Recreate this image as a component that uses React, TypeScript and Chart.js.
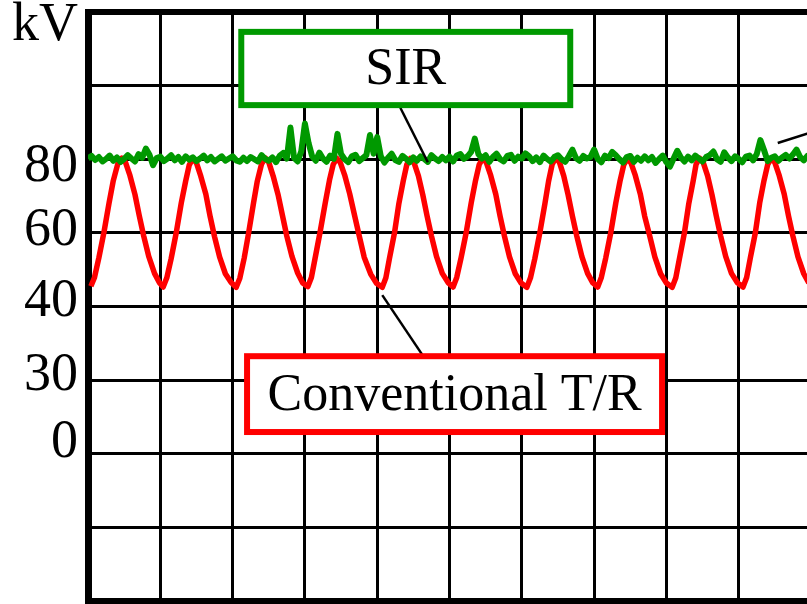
import React, { useEffect, useRef } from "react";
import { Chart, registerables } from "chart.js";

Chart.register(...registerables);

// ---- Data (time in screen divisions, voltage in kV) ----
const SIR_SAMPLE_STEP = 0.05; // divisions between SIR samples

const sirKV = [
  80.2, 80.9, 79.8, 80.6, 79.4, 80.1, 81.0, 79.6, 80.5, 79.3,
  80.1, 81.1, 80.2, 79.4, 81.4, 80.4, 82.9, 81.2, 78.4, 80.3,
  80.7, 79.5, 80.2, 81.1, 79.7, 80.6, 79.3, 80.8, 79.9, 80.5,
  79.5, 80.2, 81.0, 79.7, 80.6, 79.4, 80.1, 80.8, 79.6, 80.2,
  80.8, 79.7, 79.3, 80.4, 79.5, 80.6, 80.0, 79.4, 81.1, 80.1,
  79.6, 80.5, 79.2, 80.9, 81.7, 80.2, 88.6, 80.4, 79.4, 82.2,
  89.7, 84.5, 80.8, 79.6, 81.8, 80.2, 79.3, 81.0, 80.1, 86.9,
  81.4, 80.0, 79.2, 80.8, 81.2, 79.5, 80.3, 81.1, 86.6, 81.5,
  86.0, 80.8, 79.1, 80.4, 81.5, 79.8, 79.3, 80.9, 80.1, 79.2,
  80.5, 79.6, 80.8, 80.1, 79.3, 81.1, 80.2, 79.5, 80.6, 79.7,
  80.7, 79.4, 81.0, 81.4, 80.1, 80.8, 82.0, 85.6, 81.4, 80.2,
  81.1, 79.3, 80.6, 81.5, 80.0, 79.4, 80.9, 81.2, 79.6, 80.7,
  80.2, 81.6, 80.8, 79.5, 80.5, 79.2, 81.0, 80.1, 79.4, 80.6,
  81.1, 80.0, 79.3, 80.8, 82.6, 80.3, 79.6, 80.9, 80.2, 80.6,
  82.6, 80.1, 79.2, 81.0, 80.3, 82.0, 81.1, 80.0, 79.1, 80.6,
  80.9, 79.3, 80.4, 79.6, 80.8, 79.7, 80.6, 79.0, 80.1, 81.0,
  79.2, 78.0, 80.2, 82.3, 80.5, 79.4, 80.7, 79.7, 81.0, 80.2,
  79.4, 80.6, 81.1, 82.1, 80.0, 79.3, 81.9, 80.5, 79.5, 80.8,
  80.1, 79.2, 80.7, 81.0, 79.7, 81.4, 85.2, 82.5, 79.5, 80.4,
  80.8, 79.6, 80.5, 81.2, 80.2, 81.3, 82.6, 80.6, 79.7, 80.9, 80.3,
];

const convTime = [
  0.04, 0.09, 0.15, 0.22, 0.29, 0.35, 0.41, 0.47, 0.52, 0.58, 0.65, 0.71, 0.77, 0.84, 0.92, 0.99,
  1.04, 1.09, 1.15, 1.22, 1.29, 1.35, 1.40, 1.45, 1.50, 1.56, 1.63, 1.69, 1.75, 1.82, 1.90, 1.98,
  2.05, 2.10, 2.16, 2.22, 2.29, 2.34, 2.40, 2.45, 2.50, 2.56, 2.63, 2.69, 2.75, 2.82, 2.90, 2.97,
  3.04, 3.09, 3.14, 3.21, 3.28, 3.34, 3.39, 3.44, 3.49, 3.55, 3.62, 3.69, 3.75, 3.82, 3.91, 3.99,
  4.07, 4.12, 4.17, 4.24, 4.30, 4.36, 4.41, 4.46, 4.51, 4.57, 4.63, 4.69, 4.75, 4.82, 4.90, 4.98,
  5.05, 5.10, 5.16, 5.23, 5.30, 5.36, 5.41, 5.46, 5.51, 5.57, 5.64, 5.70, 5.76, 5.83, 5.91, 5.99,
  6.07, 6.12, 6.18, 6.25, 6.32, 6.37, 6.42, 6.47, 6.52, 6.58, 6.64, 6.70, 6.76, 6.83, 6.91, 6.98,
  7.05, 7.10, 7.16, 7.23, 7.30, 7.36, 7.41, 7.46, 7.51, 7.57, 7.64, 7.70, 7.77, 7.84, 7.92, 8.00,
  8.08, 8.13, 8.18, 8.25, 8.31, 8.37, 8.41, 8.46, 8.51, 8.57, 8.63, 8.69, 8.75, 8.82, 8.90, 8.98,
  9.06, 9.11, 9.16, 9.23, 9.29, 9.35, 9.40, 9.45, 9.50, 9.56, 9.63, 9.69, 9.75, 9.82, 9.90, 9.97,
];

const convKV = [
  45.5, 47.9, 53.2, 60.1, 68.0, 74.2, 78.6, 80.3, 79.1, 75.6, 70.4, 64.6, 59.2, 53.6, 49.0, 46.4,
  45.3, 47.8, 53.0, 60.0, 68.1, 74.0, 78.4, 80.2, 79.0, 75.4, 70.5, 64.4, 59.0, 53.5, 48.9, 46.5,
  45.2, 47.7, 53.1, 59.8, 68.2, 73.9, 78.7, 80.4, 79.2, 75.5, 70.3, 64.7, 59.1, 53.7, 49.1, 46.4,
  45.4, 47.9, 53.0, 60.2, 68.0, 74.3, 78.5, 80.3, 79.1, 75.7, 70.6, 64.5, 59.3, 53.4, 48.8, 46.3,
  45.2, 47.8, 53.1, 60.1, 68.0, 74.1, 78.6, 80.2, 79.0, 75.5, 70.4, 64.6, 59.2, 53.6, 49.0, 46.5,
  45.3, 47.9, 53.2, 60.0, 68.1, 74.2, 78.5, 80.3, 79.1, 75.6, 70.5, 64.5, 59.1, 53.5, 48.9, 46.4,
  45.2, 47.8, 53.0, 60.1, 68.0, 74.0, 78.6, 80.4, 79.2, 75.5, 70.4, 64.6, 59.2, 53.6, 49.0, 46.5,
  45.3, 47.9, 53.1, 60.0, 68.1, 74.2, 78.5, 80.2, 79.0, 75.6, 70.5, 64.5, 59.1, 53.5, 48.9, 46.4,
  45.2, 47.8, 53.0, 60.1, 68.0, 74.1, 78.6, 80.3, 79.1, 75.5, 70.4, 64.6, 59.2, 53.6, 49.0, 46.5,
  45.3, 47.9, 53.1, 60.0, 68.1, 74.2, 78.5, 80.3, 79.1, 75.6, 70.5, 64.5, 59.1, 53.5, 48.9, 46.4,
];

// y tick labels (as printed on the original screen) and their kV positions
const yTickValues = [3.0, 21.3, 41.2, 60.5, 78.0, 116.3];
const yTickLabels = ["0", "30", "40", "60", "80", "kV"];

const X_MIN = 0;
const X_MAX = 10;
const Y_MIN = -40;
const Y_MAX = 120;

const SIR_COLOR = "#009900";
const CONV_COLOR = "#ff0000";
const SERIF = '"Liberation Serif", "Times New Roman", serif';

// Annotation boxes and leader lines (in data coordinates)
const labelBoxes = [
  { text: "SIR", color: SIR_COLOR, x0: 2.12, x1: 6.67, y0: 114.6, y1: 94.7 },
  { text: "Conventional T/R", color: CONV_COLOR, x0: 2.2, x1: 7.94, y0: 26.5, y1: 5.9 },
];
const leaderLines = [
  { x0: 4.32, y0: 94.0, x1: 4.7, y1: 79.2 },
  { x0: 4.07, y0: 43.1, x1: 4.62, y1: 27.0 },
  { x0: 9.54, y0: 84.4, x1: 10.0, y1: 87.3 },
];

export default function App() {
  const ref = useRef<HTMLCanvasElement>(null);

  useEffect(() => {
    const canvas = ref.current;
    if (!canvas) return;

    const sirData = sirKV.map((v, i) => ({ x: i * SIR_SAMPLE_STEP, y: v }));
    const convData = convTime.map((t, i) => ({ x: t, y: convKV[i] }));

    const annotationPlugin = {
      id: "scopeAnnotations",
      afterDraw(chart: any) {
        const { ctx } = chart;
        const xs = chart.scales.x;
        const ys = chart.scales.y;
        ctx.save();
        ctx.strokeStyle = "#000";
        ctx.lineWidth = 2.5;
        for (const l of leaderLines) {
          ctx.beginPath();
          ctx.moveTo(xs.getPixelForValue(l.x0), ys.getPixelForValue(l.y0));
          ctx.lineTo(xs.getPixelForValue(l.x1), ys.getPixelForValue(l.y1));
          ctx.stroke();
        }
        for (const b of labelBoxes) {
          const left = xs.getPixelForValue(b.x0);
          const right = xs.getPixelForValue(b.x1);
          const top = ys.getPixelForValue(b.y0);
          const bottom = ys.getPixelForValue(b.y1);
          ctx.fillStyle = "#fff";
          ctx.fillRect(left, top, right - left, bottom - top);
          ctx.strokeStyle = b.color;
          ctx.lineWidth = 6;
          ctx.strokeRect(left, top, right - left, bottom - top);
          ctx.fillStyle = "#000";
          ctx.font = `52px ${SERIF}`;
          ctx.textAlign = "center";
          ctx.textBaseline = "middle";
          ctx.fillText(b.text, (left + right) / 2, (top + bottom) / 2 + 2);
        }
        ctx.restore();
      },
    };

    const chart = new Chart(canvas, {
      type: "line",
      data: {
        datasets: [
          {
            label: "SIR",
            data: sirData,
            borderColor: SIR_COLOR,
            backgroundColor: SIR_COLOR,
            borderWidth: 6,
            borderJoinStyle: "round",
            pointRadius: 0,
            tension: 0,
            order: 0,
          },
          {
            label: "Conventional T/R",
            data: convData,
            borderColor: CONV_COLOR,
            backgroundColor: CONV_COLOR,
            borderWidth: 5.5,
            borderJoinStyle: "round",
            pointRadius: 0,
            tension: 0,
            order: 1,
          },
        ],
      },
      options: {
        animation: false,
        responsive: false,
        devicePixelRatio: 1,
        layout: { padding: { top: 12, left: 0, right: 0, bottom: 0 } },
        plugins: {
          legend: { display: false },
          tooltip: { enabled: false },
        },
        scales: {
          x: {
            type: "linear",
            min: X_MIN,
            max: X_MAX,
            ticks: { display: false, stepSize: 1 },
            grid: { color: "#000", lineWidth: 3, drawTicks: false },
            border: { color: "#000", width: 6 },
            afterFit: (s: any) => {
              s.height = 3;
              s.paddingLeft = 0;
              s.paddingRight = 0;
            },
          },
          y: {
            type: "linear",
            position: "left",
            weight: 0,
            min: Y_MIN,
            max: Y_MAX,
            ticks: { display: false, stepSize: 20 },
            grid: {
              color: "#000",
              lineWidth: (c: any) => (c.tick && c.tick.value === Y_MAX ? 6 : 3),
              drawTicks: false,
            },
            border: { color: "#000", width: 7 },
            afterFit: (s: any) => {
              s.width = 0;
              s.paddingTop = 0;
              s.paddingBottom = 0;
            },
          },
          yl: {
            type: "linear",
            position: "left",
            weight: 1,
            min: Y_MIN,
            max: Y_MAX,
            grid: { display: false, drawTicks: false },
            border: { display: false },
            ticks: {
              autoSkip: false,
              padding: 10,
              color: "#000",
              font: { family: SERIF, size: 54 },
              callback: (_v: any, i: number) => yTickLabels[i],
            },
            afterBuildTicks: (s: any) => {
              s.ticks = yTickValues.map((v) => ({ value: v }));
            },
            afterFit: (s: any) => {
              s.width = 88;
              s.paddingTop = 0;
              s.paddingBottom = 0;
            },
          },
        },
      } as any,
      plugins: [annotationPlugin],
    });

    return () => chart.destroy();
  }, []);

  return (
    <div
      style={{
        position: "absolute",
        left: 0,
        top: 0,
        width: 807,
        height: 604,
        overflow: "hidden",
        background: "#fff",
      }}
    >
      <canvas ref={ref} width={811} height={604} style={{ display: "block" }} />
    </div>
  );
}
